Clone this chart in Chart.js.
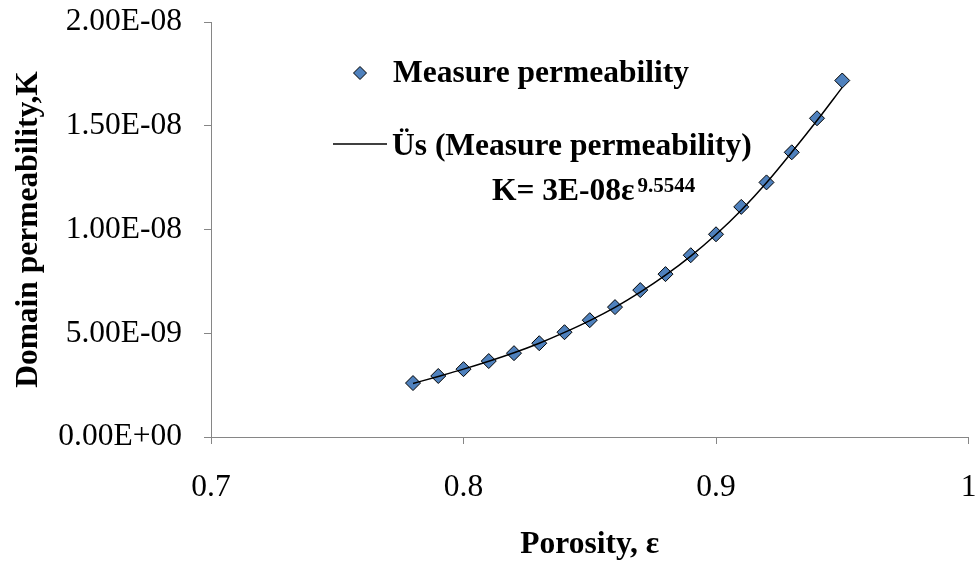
<!DOCTYPE html>
<html>
<head>
<meta charset="utf-8">
<script src="https://cdn.jsdelivr.net/npm/chart.js@4/dist/chart.umd.min.js"></script>
<style>
  html, body { margin: 0; padding: 0; background: #fff; }
  #wrap { width: 977px; height: 561px; }
</style>
</head>
<body>
<div id="wrap"><canvas id="c" width="977" height="561"></canvas></div>
<script>
// данные
const porosity = [0.78, 0.79, 0.80, 0.81, 0.82, 0.83, 0.84, 0.85, 0.86,
                  0.87, 0.88, 0.89, 0.90, 0.91, 0.92, 0.93, 0.94, 0.95];
const measured = [2.60e-9, 2.94e-9, 3.27e-9, 3.66e-9, 4.04e-9, 4.52e-9, 5.05e-9, 5.63e-9, 6.26e-9,
                  7.08e-9, 7.85e-9, 8.76e-9, 9.77e-9, 1.109e-8, 1.227e-8, 1.372e-8, 1.536e-8, 1.718e-8];
// линия тренда (степенная), как нарисована
const trend    = [2.58e-9, 2.92e-9, 3.27e-9, 3.65e-9, 4.06e-9, 4.52e-9, 5.04e-9, 5.61e-9, 6.25e-9,
                  6.98e-9, 7.80e-9, 8.72e-9, 9.76e-9, 1.093e-8, 1.225e-8, 1.372e-8, 1.525e-8, 1.685e-8];
const xTicks = [0.7, 0.8, 0.9, 1.0];
const yTicks = [0, 5e-9, 1e-8, 1.5e-8, 2e-8];

const seriesLabel = 'Measure permeability';
const trendLabel = 'Üs (Measure permeability)';
const eqMain = 'K= 3E-08ε';
const eqPow = '9.5544';

const FONT = "'Liberation Serif', 'Times New Roman', serif";
const FS = 31.5;
const AXIS = '#868686';
const FILL = '#4F81BD';

// 2.00E-08 style
const fmtE = v => {
  if (Math.abs(v) < 1e-20) return '0.00E+00';
  const [m, e] = v.toExponential(2).split('e');
  const n = parseInt(e, 10);
  return m + 'E' + (n < 0 ? '-' : '+') + String(Math.abs(n)).padStart(2, '0');
};

// легенда и уравнение внутри области графика
const legendInside = {
  id: 'legendInside',
  afterDraw(chart) {
    const ctx = chart.ctx;
    ctx.save();
    ctx.font = `bold ${FS}px ${FONT}`;
    ctx.fillStyle = '#000';
    ctx.textBaseline = 'middle';
    ctx.textAlign = 'left';

    // маркер ромб
    const mx = 360, my = 73, r = 6.5;
    ctx.beginPath();
    ctx.moveTo(mx, my - r); ctx.lineTo(mx + r, my); ctx.lineTo(mx, my + r); ctx.lineTo(mx - r, my);
    ctx.closePath();
    ctx.fillStyle = FILL; ctx.fill();
    ctx.lineWidth = 1; ctx.strokeStyle = '#000'; ctx.stroke();
    ctx.fillStyle = '#000';
    ctx.fillText(seriesLabel, 393, 74);

    // линия тренда
    ctx.beginPath();
    ctx.moveTo(333, 144); ctx.lineTo(387, 144);
    ctx.lineWidth = 1.5; ctx.stroke();
    ctx.fillText(trendLabel, 392, 147);

    // уравнение
    ctx.textBaseline = 'alphabetic';
    ctx.fillText(eqMain, 492, 200);
    const w = ctx.measureText(eqMain).width;
    ctx.font = `bold 21px ${FONT}`;
    ctx.fillText(eqPow, 492 + w + 3, 192);
    ctx.restore();
  }
};

new Chart(document.getElementById('c').getContext('2d'), {
  type: 'scatter',
  data: {
    datasets: [
      {
        label: trendLabel,
        data: porosity.map((x, i) => ({ x, y: trend[i] })),
        showLine: true,
        borderColor: '#000',
        borderWidth: 1.5,
        pointRadius: 0,
        cubicInterpolationMode: 'monotone',
        order: 0
      },
      {
        label: seriesLabel,
        data: porosity.map((x, i) => ({ x, y: measured[i] })),
        showLine: false,
        pointStyle: 'rectRot',
        pointRadius: 7.5,
        backgroundColor: FILL,
        borderColor: '#000',
        borderWidth: 1,
        order: 1
      }
    ]
  },
  options: {
    responsive: false,
    animation: false,
    layout: { padding: { top: 22, right: 0, left: 0, bottom: 0 } },
    plugins: { legend: { display: false }, tooltip: { enabled: false } },
    scales: {
      x: {
        type: 'linear',
        min: xTicks[0], max: xTicks[xTicks.length - 1],
        afterBuildTicks: s => { s.ticks = xTicks.map(v => ({ value: v })); },
        afterFit: s => { s.height = 124; s.paddingLeft = 0; s.paddingRight = 0; },
        grid: { drawOnChartArea: false, drawTicks: true, tickLength: 7, color: AXIS, lineWidth: 1 },
        border: { color: AXIS, width: 1 },
        ticks: {
          color: '#000', padding: 25, maxRotation: 0,
          font: { family: FONT, size: FS },
          callback: v => String(Number(v.toFixed(1)))
        },
        title: {
          display: true, text: 'Porosity, ε', color: '#000',
          font: { family: FONT, size: FS, weight: 'bold' },
          padding: { top: 0, bottom: -3 }
        }
      },
      y: {
        type: 'linear',
        min: yTicks[0], max: yTicks[yTicks.length - 1],
        afterBuildTicks: s => { s.ticks = yTicks.map(v => ({ value: v })); },
        afterFit: s => { s.width = 211; s.paddingTop = 0; s.paddingBottom = 0; },
        grid: { drawOnChartArea: false, drawTicks: true, tickLength: 7, color: AXIS, lineWidth: 1 },
        border: { color: AXIS, width: 1 },
        ticks: {
          color: '#000', padding: 22,
          font: { family: FONT, size: FS },
          callback: v => fmtE(v)
        },
        title: {
          display: true, text: 'Domain permeability,K', color: '#000',
          font: { family: FONT, size: FS, weight: 'bold' },
          padding: { top: 10, bottom: 0 }
        }
      }
    }
  },
  plugins: [legendInside]
});
</script>
</body>
</html>
